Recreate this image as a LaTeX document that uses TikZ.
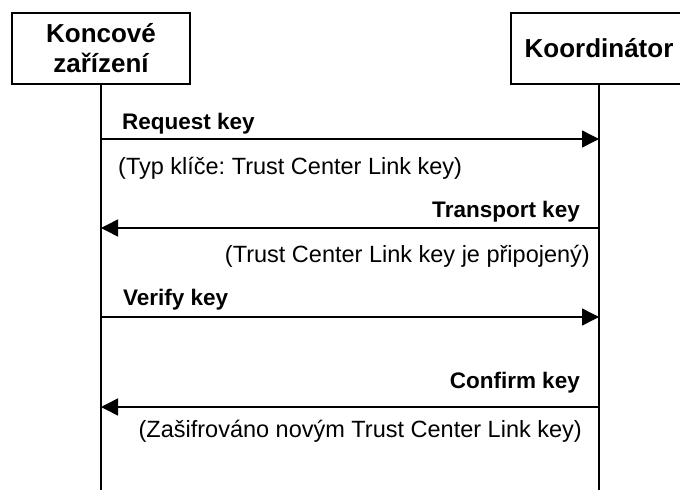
\documentclass[tikz,border=0pt]{standalone}
\usepackage{fontspec}
\setmainfont{Liberation Sans}
\usetikzlibrary{arrows.meta}
\frenchspacing
\tikzset{
  actor/.style={draw, line width=1.5pt, minimum width=178pt, minimum height=71pt,
    align=center, font=\fontsize{26}{30}\selectfont\bfseries},
  lifeline/.style={line width=1.5pt},
  msg/.style={line width=1.5pt, -{Triangle[length=17pt,width=17pt]}},
  msglabel/.style={inner sep=0pt, font=\fontsize{22.5}{27}\selectfont\bfseries},
  msgnote/.style={inner sep=0pt, font=\fontsize{23.5}{28}\selectfont},
}
\begin{document}
\begin{tikzpicture}[x=1pt,y=-1pt]
    \useasboundingbox (0,0) rectangle (680,490);
    \node[actor] (zarizeni) at (101,48.5) {Koncové\\zařízení};
    \node[actor, minimum width=176pt] (koord) at (599,48.5) {Koordinátor};
    % lifelines
    \coordinate (zend) at (101,490);
    \coordinate (kend) at (599,490);
    \draw[lifeline] (zarizeni.south) -- (zend);
    \draw[lifeline] (koord.south) -- (kend);
    % body zprav na obou lifelines
    \foreach \n/\y in {1/139, 2/228, 3/317, 4/407} {
        \coordinate (z\n) at (101,\y);
        \coordinate (k\n) at (599,\y);
    }
    \draw[msg] (z1) -- (k1);
    \draw[msg] (k2) -- (z2);
    \draw[msg] (z3) -- (k3);
    \draw[msg] (k4) -- (z4);
    % popisky
    \node[msglabel, anchor=base west] (request) at (122,129) {Request key};
    \node[msgnote, anchor=base west] (typ) at (118,174) {(Typ klíče: Trust Center Link key)};
    \node[msglabel, anchor=base east] (transport) at (580,217) {Transport key};
    \node[msgnote, anchor=base east] (pripojeny) at (590,262) {(Trust Center Link key je připojený)};
    \node[msglabel, anchor=base west] (verify) at (123,305) {Verify key};
    \node[msglabel, anchor=base east] (confirm) at (580,388) {Confirm key};
    \node[msgnote, anchor=base east] (zasifrovano) at (582,437) {(Zašifrováno novým Trust Center Link key)};
\end{tikzpicture}
\end{document}
